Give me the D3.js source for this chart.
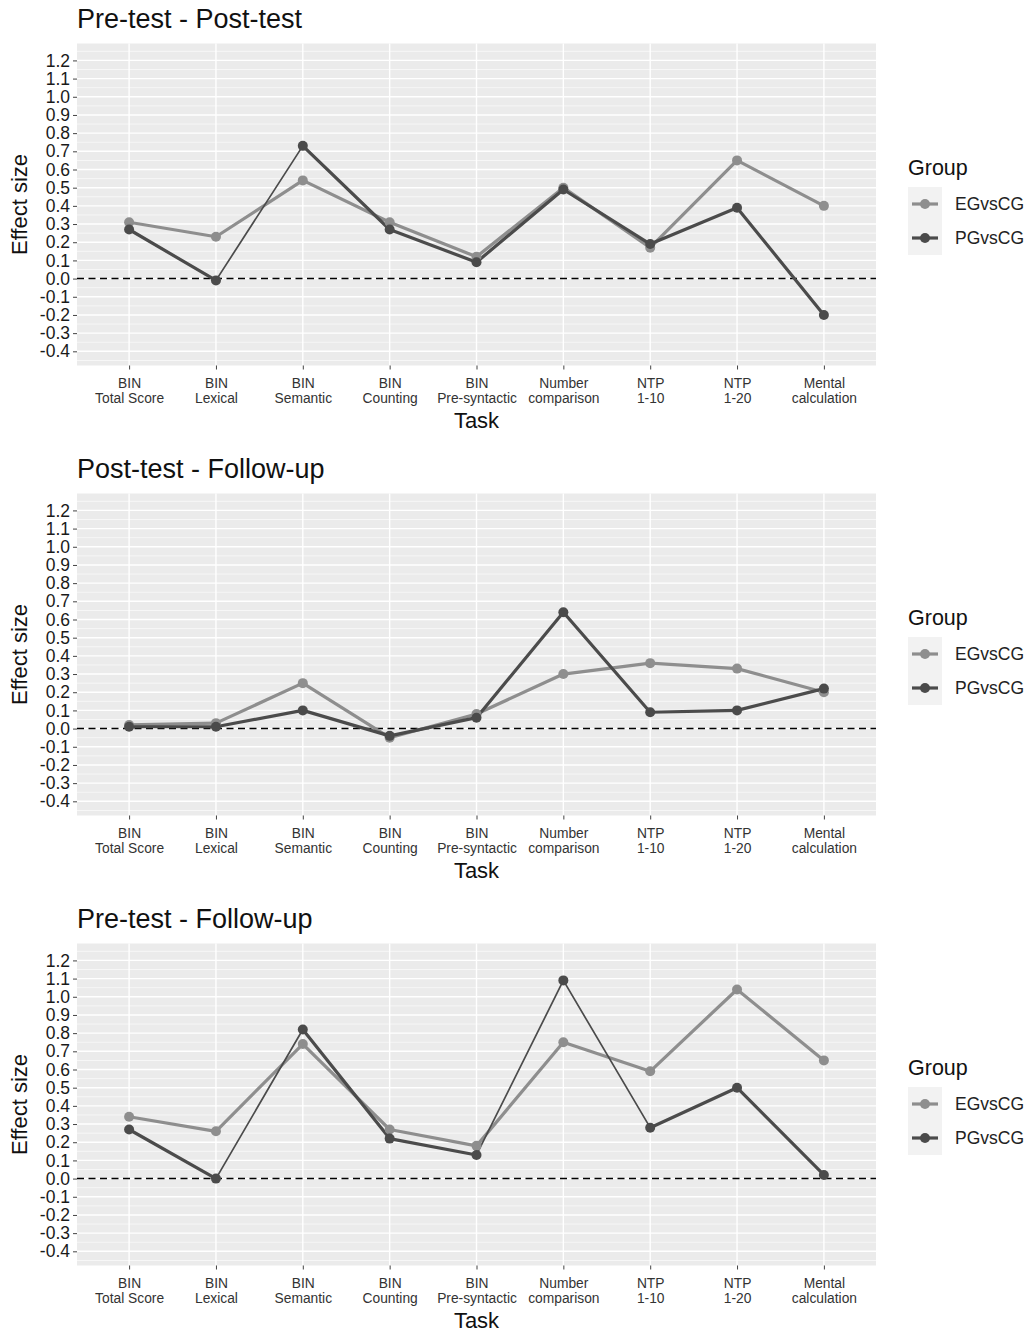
<!DOCTYPE html>
<html>
<head>
<meta charset="utf-8">
<script src="https://cdn.jsdelivr.net/npm/d3@7"></script>
<style>
  html, body { margin: 0; padding: 0; background: #ffffff; }
  svg { display: block; font-family: "Liberation Sans", Arial, sans-serif; }
</style>
</head>
<body>
<svg id="chart" width="1030" height="1334"></svg>
<script>
// Tasks on the x axis (two-line labels)
const tasks = [
  ["BIN", "Total Score"],
  ["BIN", "Lexical"],
  ["BIN", "Semantic"],
  ["BIN", "Counting"],
  ["BIN", "Pre-syntactic"],
  ["Number", "comparison"],
  ["NTP", "1-10"],
  ["NTP", "1-20"],
  ["Mental", "calculation"]
];
const groups = ["EGvsCG", "PGvsCG"];
const yTicks = [-0.4, -0.3, -0.2, -0.1, 0.0, 0.1, 0.2, 0.3, 0.4, 0.5, 0.6, 0.7, 0.8, 0.9, 1.0, 1.1, 1.2];
const panelTitles = ["Pre-test - Post-test", "Post-test - Follow-up", "Pre-test - Follow-up"];

// Effect sizes per comparison period
const prePostEG = [0.31, 0.23, 0.54, 0.31, 0.12, 0.50, 0.17, 0.65, 0.40];
const prePostPG = [0.27, -0.01, 0.73, 0.27, 0.09, 0.49, 0.19, 0.39, -0.20];
const postFollowEG = [0.02, 0.03, 0.25, -0.05, 0.08, 0.30, 0.36, 0.33, 0.20];
const postFollowPG = [0.01, 0.01, 0.10, -0.04, 0.06, 0.64, 0.09, 0.10, 0.22];
const preFollowEG = [0.34, 0.26, 0.74, 0.27, 0.18, 0.75, 0.59, 1.04, 0.65];
const preFollowPG = [0.27, 0.00, 0.82, 0.22, 0.13, 1.09, 0.28, 0.50, 0.02];

const panels = [
  { title: panelTitles[0], series: [prePostEG, prePostPG] },
  { title: panelTitles[1], series: [postFollowEG, postFollowPG] },
  { title: panelTitles[2], series: [preFollowEG, preFollowPG] }
];

const colors = { EGvsCG: "#8e8e8e", PGvsCG: "#4b4b4b" };
const svg = d3.select("#chart");

const W = { left: 77, right: 876, top: 43.5, bottom: 365.5 };
const panelStep = 450;
const taskKeys = tasks.map(t => t.join(" "));

const x = d3.scalePoint().domain(taskKeys).range([W.left, W.right]).padding(0.6);
const y = d3.scaleLinear().domain([-0.478, 1.293]).range([W.bottom, W.top]);

panels.forEach((p, pi) => {
  const g = svg.append("g").attr("transform", `translate(0,${pi * panelStep})`);

  // title
  g.append("text")
    .attr("x", W.left).attr("y", 28)
    .attr("font-size", 27).attr("fill", "#111")
    .text(p.title);

  // panel background
  g.append("rect")
    .attr("x", W.left).attr("y", W.top)
    .attr("width", W.right - W.left).attr("height", W.bottom - W.top)
    .attr("fill", "#ebebeb");

  // minor horizontal grid (half steps)
  const minor = d3.range(-0.45, 1.3, 0.1).map(v => +v.toFixed(2));
  g.append("g").selectAll("line").data(minor).join("line")
    .attr("x1", W.left).attr("x2", W.right)
    .attr("y1", d => y(d)).attr("y2", d => y(d))
    .attr("stroke", "#fafafa").attr("stroke-width", 0.8);

  // major horizontal grid
  g.append("g").selectAll("line").data(yTicks).join("line")
    .attr("x1", W.left).attr("x2", W.right)
    .attr("y1", d => y(d)).attr("y2", d => y(d))
    .attr("stroke", "#ffffff").attr("stroke-width", 1.4);

  // vertical grid at tasks
  g.append("g").selectAll("line").data(taskKeys).join("line")
    .attr("x1", d => x(d)).attr("x2", d => x(d))
    .attr("y1", W.top).attr("y2", W.bottom)
    .attr("stroke", "#ffffff").attr("stroke-width", 1.4);

  // zero reference line
  g.append("line")
    .attr("x1", W.left).attr("x2", W.right)
    .attr("y1", y(0)).attr("y2", y(0))
    .attr("stroke", "#000").attr("stroke-width", 1.5)
    .attr("stroke-dasharray", "7,4.5");

  // y axis
  const yAxis = d3.axisLeft(y).tickValues(yTicks).tickFormat(d3.format(".1f")).tickSize(4).tickPadding(3);
  const ya = g.append("g").attr("transform", `translate(${W.left},0)`).call(yAxis);
  ya.select(".domain").remove();
  ya.selectAll(".tick line").attr("stroke", "#444").attr("stroke-width", 1);
  ya.selectAll(".tick text")
    .attr("font-size", 17.5).attr("fill", "#1a1a1a")
    .attr("font-family", "'Liberation Sans', Arial, sans-serif")
    .text(d => d3.format(".1f")(d).replace("−", "-"));

  // x axis
  const xAxis = d3.axisBottom(x).tickSize(4).tickFormat("");
  const xa = g.append("g").attr("transform", `translate(0,${W.bottom})`).call(xAxis);
  xa.select(".domain").remove();
  xa.selectAll(".tick line").attr("stroke", "#444").attr("stroke-width", 1);
  xa.selectAll(".tick").each(function (d, i) {
    const t = d3.select(this).append("text")
      .attr("text-anchor", "middle")
      .attr("font-size", 13.8).attr("fill", "#333")
      .attr("font-family", "'Liberation Sans', Arial, sans-serif");
    t.append("tspan").attr("x", 0).attr("y", 22).text(tasks[i][0]);
    t.append("tspan").attr("x", 0).attr("y", 37.5).text(tasks[i][1]);
  });

  // axis titles
  g.append("text")
    .attr("transform", `translate(27,${(W.top + W.bottom) / 2}) rotate(-90)`)
    .attr("text-anchor", "middle").attr("font-size", 22).attr("fill", "#111")
    .text("Effect size");
  g.append("text")
    .attr("x", (W.left + W.right) / 2).attr("y", 428)
    .attr("text-anchor", "middle").attr("font-size", 22).attr("fill", "#111")
    .text("Task");

  // lines (drawn per segment; very steep segments use a finer stroke)
  p.series.forEach((vals, si) => {
    const col = colors[groups[si]];
    const pts = vals.map((v, i) => [x(taskKeys[i]), y(v)]);
    const segs = d3.pairs(pts);
    g.append("g").selectAll("line").data(segs).join("line")
      .attr("x1", d => d[0][0]).attr("y1", d => d[0][1])
      .attr("x2", d => d[1][0]).attr("y2", d => d[1][1])
      .attr("stroke", col)
      .attr("stroke-width", d => Math.abs(d[1][1] - d[0][1]) > 120 ? 1.7 : 3.2)
      .attr("stroke-linecap", "round");
  });

  // points
  p.series.forEach((vals, si) => {
    const col = colors[groups[si]];
    g.append("g").selectAll("circle").data(vals).join("circle")
      .attr("cx", (d, i) => x(taskKeys[i])).attr("cy", d => y(d))
      .attr("r", 5).attr("fill", col);
  });

  // legend
  const lg = g.append("g").attr("transform", "translate(908,0)");
  lg.append("text").attr("x", 0).attr("y", 175)
    .attr("font-size", 21.5).attr("fill", "#111").text("Group");
  lg.append("rect").attr("x", 0).attr("y", 187).attr("width", 34).attr("height", 68)
    .attr("fill", "#f2f2f2");
  groups.forEach((gr, k) => {
    const cy = 204 + k * 34;
    lg.append("line").attr("x1", 4).attr("x2", 30).attr("y1", cy).attr("y2", cy)
      .attr("stroke", colors[gr]).attr("stroke-width", 3.2);
    lg.append("circle").attr("cx", 17).attr("cy", cy).attr("r", 5).attr("fill", colors[gr]);
    lg.append("text").attr("x", 47).attr("y", cy + 6)
      .attr("font-size", 17.5).attr("fill", "#222").text(gr);
  });
});
</script>
</body>
</html>
